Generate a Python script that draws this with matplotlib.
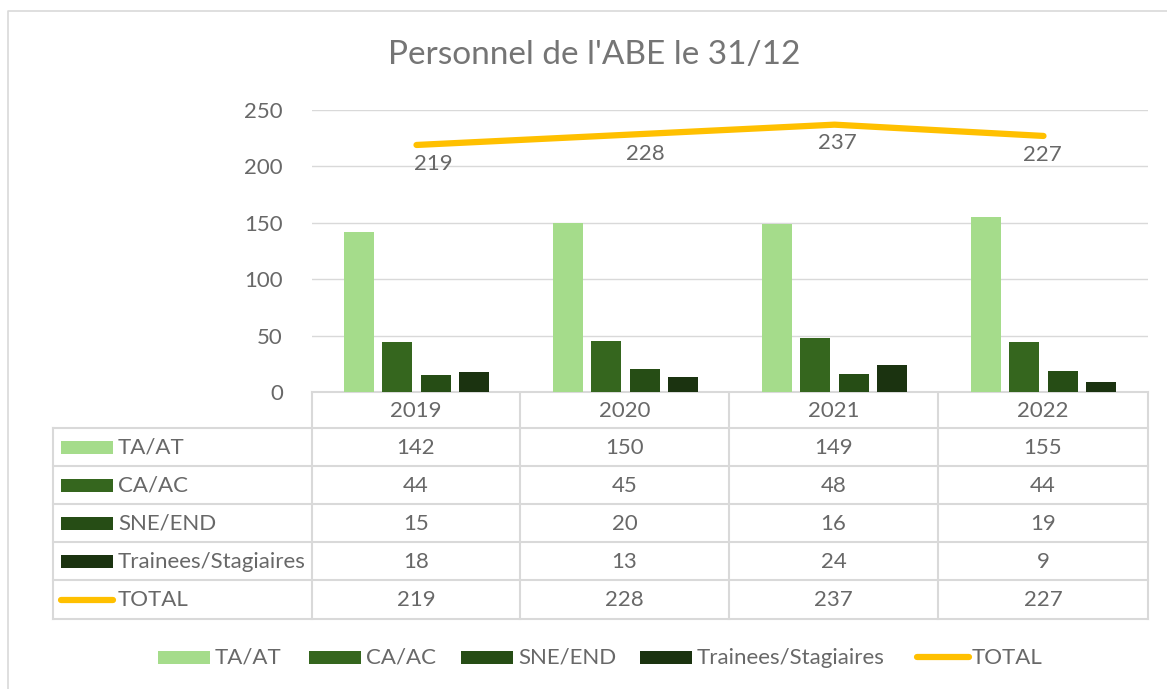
import numpy as np
import matplotlib
matplotlib.use('Agg')
import matplotlib.pyplot as plt
from matplotlib.patches import Rectangle

plt.rcParams['font.family'] = ['Lato', 'DejaVu Sans']

# données
years = ['2019', '2020', '2021', '2022']
series_names = ['TA/AT', 'CA/AC', 'SNE/END', 'Trainees/Stagiaires']
ta_at = [142, 150, 149, 155]
ca_ac = [44, 45, 48, 44]
sne_end = [15, 20, 16, 19]
trainees = [18, 13, 24, 9]
total = [219, 228, 237, 227]
total_name = 'TOTAL'

colors = ['#A5DC8B', '#35661E', '#264D15', '#1B3310']
line_color = '#FFC000'
grid_color = '#D9D9D9'
text_color = '#686868'

W, H = 1167, 689
fig = plt.figure(figsize=(W / 100, H / 100), dpi=100)

# overlay en pixels pour le tableau, la légende et le cadre
ov = fig.add_axes([0, 0, 1, 1])
ov.set_xlim(0, W)
ov.set_ylim(H, 0)
ov.axis('off')

# zone de tracé
x0, x1, ytop, ybot = 312, 1148, 110, 392
ax = fig.add_axes([x0 / W, 1 - ybot / H, (x1 - x0) / W, (ybot - ytop) / H])
ax.set_xlim(-0.5, 3.5)
ax.set_ylim(0, 250)
ax.set_yticks(range(0, 251, 50))
ax.yaxis.grid(True, color=grid_color, lw=1)
ax.set_axisbelow(True)
ax.set_xticks([])
for s in ['top', 'right', 'left']:
    ax.spines[s].set_visible(False)
ax.spines['bottom'].set_color(grid_color)
ax.spines['bottom'].set_linewidth(1.5)
ax.tick_params(axis='y', length=0, pad=21, labelsize=16, labelcolor=text_color)

x = np.arange(len(years))
bw = 0.144
step = 0.183
all_series = [ta_at, ca_ac, sne_end, trainees]
for i, (vals, c) in enumerate(zip(all_series, colors)):
    ax.bar(x + (i - 1.5) * step, vals, width=bw, color=c, zorder=3)

ax.plot(x, total, color=line_color, lw=4.5, solid_capstyle='round', zorder=4)
label_dx = [17, 20, 3, -1]
for xi, v, dx in zip(x, total, label_dx):
    ax.annotate(str(v), (xi, v), xytext=(dx * 0.72, -13.5), textcoords='offset points',
                ha='center', va='center', fontsize=16, color=text_color, zorder=5)

# cadre du graphique
ov.plot([8, 8, W], [H, 11, 11], color=grid_color, lw=1.2)

# tableau de données
col_edges = [312, 520, 729, 938, 1148]
row_edges = [392, 428, 466, 504, 542, 580, 619]
tleft = 53
lw_t = 1.5
for r in row_edges[1:]:
    ov.plot([tleft, col_edges[-1]], [r, r], color=grid_color, lw=lw_t)
for c in col_edges:
    ov.plot([c, c], [row_edges[0], row_edges[-1]], color=grid_color, lw=lw_t)
ov.plot([tleft, tleft], [row_edges[1], row_edges[-1]], color=grid_color, lw=lw_t)

centers = [(a + b) / 2 for a, b in zip(col_edges[:-1], col_edges[1:])]
rows = all_series + [total]
names = series_names + [total_name]
ov_fs = 16
for cx, yr in zip(centers, years):
    ov.text(cx, (row_edges[0] + row_edges[1]) / 2 + 1, yr, ha='center', va='center',
            fontsize=ov_fs, color=text_color)
for ri, (vals, name) in enumerate(zip(rows, names)):
    yc = (row_edges[ri + 1] + row_edges[ri + 2]) / 2
    if ri < 4:
        ov.add_patch(Rectangle((61, yc - 6.5), 52, 13, color=colors[ri], lw=0))
    else:
        ov.plot([61, 113], [yc, yc], color=line_color, lw=4.5, solid_capstyle='round')
    ov.text(118, yc + 1, name, ha='left', va='center', fontsize=ov_fs, color=text_color)
    for cx, v in zip(centers, vals):
        ov.text(cx, yc + 1, str(v), ha='center', va='center', fontsize=ov_fs, color=text_color)

# légende du bas
leg_y = 657
leg_x = [158, 309, 461, 640, 915]
for i, name in enumerate(names):
    lx = leg_x[i]
    if i < 4:
        ov.add_patch(Rectangle((lx, leg_y - 6.5), 52, 13, color=colors[i], lw=0))
    else:
        ov.plot([lx + 2, lx + 54], [leg_y, leg_y], color=line_color, lw=4.5, solid_capstyle='round')
    ov.text(lx + 57, leg_y + 1, name, ha='left', va='center', fontsize=ov_fs, color=text_color)

# titre
ov.text(594, 55, "Personnel de l'ABE le 31/12", ha='center', va='center',
        fontsize=24, color='#757575')

fig.savefig('out.png', dpi=100)
